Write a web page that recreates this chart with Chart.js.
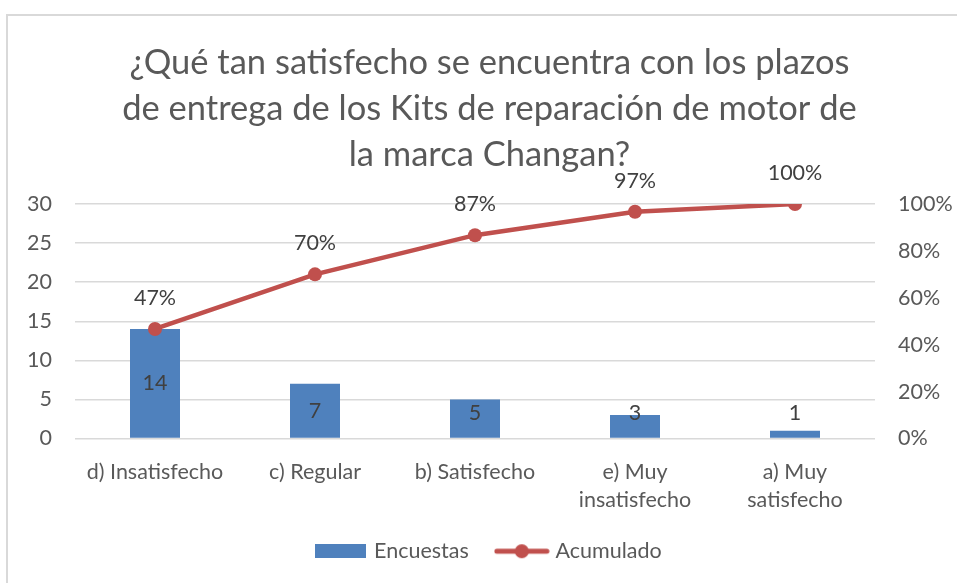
<!DOCTYPE html>
<html>
<head>
<meta charset="utf-8">
<script src="https://cdn.jsdelivr.net/npm/chart.js@4"></script>
<style>
  html, body { margin: 0; padding: 0; background: #fff; }
  #wrap { position: relative; width: 957px; height: 583px; }
  canvas { display: block; }
</style>
</head>
<body>
<div id="wrap"><canvas id="c" width="957" height="583"></canvas></div>
<script>
const titleLines = [
  '¿Qué tan satisfecho se encuentra con los plazos',
  'de entrega de los Kits de reparación de motor de',
  'la marca Changan?'
];
const categories = [
  'd) Insatisfecho',
  'c) Regular',
  'b) Satisfecho',
  ['e) Muy', 'insatisfecho'],
  ['a) Muy', 'satisfecho']
];
const encuestas = [14, 7, 5, 3, 1];
const acumulado = [0.467, 0.70, 0.867, 0.967, 1.00];
const seriesNames = ['Encuestas', 'Acumulado'];

const FONT = 'Lato, "Open Sans", sans-serif';
const FS = 21.5;
const BLUE = '#4F81BD';
const RED = '#C0504D';
const GRAY = '#595959';
const LABEL = '#404040';

function makeIcon(w, h, drawFn) {
  const c = document.createElement('canvas');
  c.width = w; c.height = h;
  drawFn(c.getContext('2d'), w, h);
  return c;
}
const barIcon = makeIcon(51, 14, (ctx, w, h) => { ctx.fillStyle = BLUE; ctx.fillRect(0, 0, w, h); });
const lineIcon = makeIcon(56, 16, (ctx, w, h) => {
  ctx.strokeStyle = RED; ctx.lineWidth = 5; ctx.lineCap = 'round';
  ctx.beginPath(); ctx.moveTo(3, h / 2); ctx.lineTo(w - 3, h / 2); ctx.stroke();
  ctx.fillStyle = RED; ctx.beginPath(); ctx.arc(w / 2, h / 2, 7, 0, Math.PI * 2); ctx.fill();
});

const frame = {
  id: 'frame',
  beforeDraw(chart) {
    const ctx = chart.ctx;
    ctx.save();
    ctx.fillStyle = '#fff';
    ctx.fillRect(0, 0, chart.width, chart.height);
    ctx.strokeStyle = '#d9d9d9';
    ctx.lineWidth = 2;
    ctx.beginPath();
    ctx.moveTo(7, chart.height);
    ctx.lineTo(7, 15);
    ctx.lineTo(chart.width, 15);
    ctx.stroke();
    ctx.restore();
  }
};

const dataLabels = {
  id: 'dataLabels',
  afterDatasetsDraw(chart) {
    const ctx = chart.ctx;
    ctx.save();
    ctx.font = FS + 'px ' + FONT;
    ctx.fillStyle = LABEL;
    ctx.textAlign = 'center';
    ctx.textBaseline = 'middle';
    chart.getDatasetMeta(0).data.forEach((bar, i) => {
      const y = Math.min((bar.y + bar.base) / 2, bar.base - 25);
      ctx.fillText(String(encuestas[i]), bar.x, y);
    });
    chart.getDatasetMeta(1).data.forEach((pt, i) => {
      ctx.fillText(Math.round(acumulado[i] * 100) + '%', pt.x, pt.y - 31);
    });
    ctx.restore();
  }
};

new Chart(document.getElementById('c'), {
  data: {
    labels: categories,
    datasets: [
      {
        type: 'bar',
        label: seriesNames[0],
        data: encuestas,
        backgroundColor: BLUE,
        yAxisID: 'y',
        order: 1,
        categoryPercentage: 1,
        barPercentage: 0.3125
      },
      {
        type: 'line',
        label: seriesNames[1],
        data: acumulado,
        borderColor: RED,
        backgroundColor: RED,
        borderWidth: 4.5,
        pointRadius: 7,
        pointBackgroundColor: RED,
        pointBorderWidth: 0,
        yAxisID: 'y1',
        order: 0,
        tension: 0
      }
    ]
  },
  options: {
    responsive: false,
    animation: false,
    devicePixelRatio: 1,
    layout: { padding: { left: 22, right: 0, top: 0, bottom: 11 } },
    plugins: {
      title: {
        display: true,
        text: titleLines,
        color: GRAY,
        font: { family: FONT, size: 34.5, weight: 'normal', lineHeight: '46px' },
        padding: { top: 40, bottom: 26 }
      },
      legend: {
        position: 'bottom',
        labels: {
          color: GRAY,
          font: { family: FONT, size: FS },
          usePointStyle: true,
          pointStyleWidth: 46,
          boxHeight: 14,
          padding: 30,
          generateLabels(chart) {
            return seriesNames.map((n, i) => ({
              text: n,
              fillStyle: i === 0 ? BLUE : RED,
              strokeStyle: i === 0 ? BLUE : RED,
              lineWidth: 0,
              pointStyle: i === 0 ? barIcon : lineIcon,
              datasetIndex: i,
              hidden: false,
              fontColor: GRAY
            }));
          }
        }
      },
      tooltip: { enabled: false }
    },
    scales: {
      x: {
        grid: { display: false, drawTicks: false },
        border: { display: false },
        ticks: {
          color: GRAY,
          font: { family: FONT, size: FS, lineHeight: '28px' },
          padding: 20,
          maxRotation: 0,
          autoSkip: false
        },
        afterFit(s) { s.height = 72; }
      },
      y: {
        position: 'left',
        min: 0, max: 30,
        ticks: { stepSize: 5, color: GRAY, font: { family: FONT, size: FS }, padding: 23 },
        grid: { color: '#d9d9d9', lineWidth: 1.5, drawTicks: false },
        border: { display: false },
        afterFit(s) { s.width = 53; }
      },
      y1: {
        position: 'right',
        min: 0, max: 1,
        ticks: {
          stepSize: 0.2, color: GRAY, font: { family: FONT, size: FS }, padding: 23,
          callback: v => Math.round(v * 100) + '%'
        },
        grid: { display: false, drawTicks: false },
        border: { display: false },
        afterFit(s) { s.width = 82; }
      }
    }
  },
  plugins: [frame, dataLabels]
});
</script>
</body>
</html>
